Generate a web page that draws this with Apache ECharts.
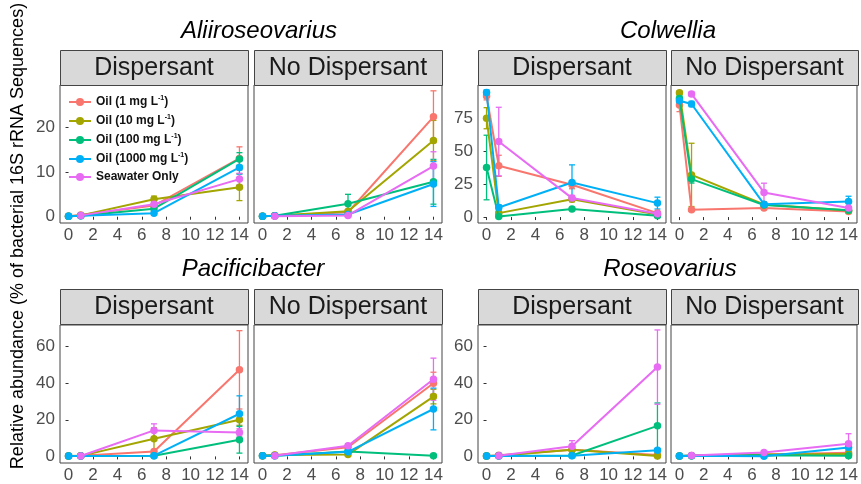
<!DOCTYPE html>
<html>
<head>
<meta charset="utf-8">
<script src="https://cdn.jsdelivr.net/npm/echarts@6/dist/echarts.min.js"></script>
<style>
  html, body { margin: 0; padding: 0; background: #fff; }
  #chart { width: 861px; height: 484px; }
</style>
</head>
<body>
<div id="chart"></div>
<script>
// Sampling days and treatments
const days = [0, 1, 7, 14];
const treatments = ['Oil (1 mg L-1)', 'Oil (10 mg L-1)', 'Oil (100 mg L-1)', 'Oil (1000 mg L-1)', 'Seawater Only'];
const genera = ['Aliiroseovarius', 'Colwellia', 'Pacificibacter', 'Roseovarius'];
const conditions = ['Dispersant', 'No Dispersant'];
const xTicks = [0, 2, 4, 6, 8, 10, 12, 14];
const yTicksAlii = [0, 10, 20];
const yTicksColw = [0, 25, 50, 75];
const yTicksPaci = [0, 20, 40, 60];
const yTicksRose = [0, 20, 40, 60];

// Mean relative abundance (%), rows follow `treatments`, columns follow `days`
const aliiDisp = [
  [0.1, 0.4, 2.5, 13.0],
  [0.1, 0.3, 3.9, 6.6],
  [0.1, 0.2, 1.8, 12.9],
  [0.1, 0.2, 0.8, 11.0],
  [null, 0.3, 2.8, 8.4]
];
const aliiDispErr = [
  [0.1, 0.2, 0.5, 2.6],
  [0.1, 0.1, 0.7, 3.0],
  [0.1, 0.1, 0.4, 1.4],
  [0.1, 0.1, 0.3, 1.5],
  [null, 0.1, 0.5, 1.3]
];
const aliiNoDisp = [
  [0.1, 0.2, 1.0, 22.3],
  [0.1, 0.2, 1.2, 17.0],
  [0.1, 0.2, 2.9, 7.8],
  [0.1, 0.2, 0.5, 7.3],
  [null, 0.1, 0.3, 11.3]
];
const aliiNoDispErr = [
  [0.1, 0.1, 0.3, 5.8],
  [0.1, 0.1, 0.4, 4.5],
  [0.1, 0.1, 2.1, 5.0],
  [0.1, 0.1, 0.2, 5.0],
  [null, 0.1, 0.2, 3.2]
];
const colwDisp = [
  [91.9, 38.9, 24.5, 3.0],
  [75.0, 3.0, 13.6, 2.0],
  [37.6, 0.5, 6.1, 1.0],
  [94.5, 7.3, 26.2, 10.6],
  [null, 57.3, 14.4, 2.5]
];
const colwDispErr = [
  [3.0, 8.0, 3.0, 1.0],
  [8.0, 1.0, 2.0, 0.5],
  [24.5, 0.3, 1.0, 0.5],
  [2.0, 2.0, 13.4, 4.5],
  [null, 26.0, 2.0, 0.5]
];
const colwNoDisp = [
  [85.0, 5.5, 6.8, 4.2],
  [94.4, 32.0, 9.5, 5.0],
  [90.0, 28.8, 9.2, 5.2],
  [88.3, 85.8, 9.8, 11.8],
  [null, 93.4, 18.7, 6.8]
];
const colwNoDispErr = [
  [5.0, 1.0, 1.0, 0.5],
  [1.0, 24.0, 1.0, 1.0],
  [2.0, 3.0, 1.0, 1.0],
  [2.0, 2.0, 1.0, 4.0],
  [null, 1.5, 7.0, 1.0]
];
const paciDisp = [
  [0.2, 0.3, 2.7, 47.3],
  [0.2, 0.3, 9.6, 20.0],
  [0.2, 0.2, 0.4, 9.1],
  [0.2, 0.2, 0.4, 23.3],
  [null, 0.2, 14.2, 13.1]
];
const paciDispErr = [
  [0.1, 0.1, 0.6, 21.4],
  [0.1, 0.1, 6.0, 3.0],
  [0.1, 0.1, 0.2, 7.3],
  [0.1, 0.1, 0.2, 9.8],
  [null, 0.1, 3.6, 2.0]
];
const paciNoDisp = [
  [0.3, 0.6, 5.0, 40.0],
  [0.3, 0.8, 1.0, 32.7],
  [0.3, 0.4, 2.7, 0.4],
  [0.3, 0.3, 2.5, 25.9],
  [null, 0.4, 5.8, 42.2]
];
const paciNoDispErr = [
  [0.1, 0.2, 0.5, 6.0],
  [0.1, 0.2, 0.3, 4.0],
  [0.1, 0.1, 0.3, 0.2],
  [0.1, 0.1, 0.3, 11.4],
  [null, 0.1, 1.0, 11.5]
];
const roseDisp = [
  [0.2, 0.6, 3.6, 0.8],
  [0.2, 0.4, 3.6, 0.2],
  [0.2, 0.3, 0.5, 16.7],
  [0.2, 0.2, 0.4, 3.3],
  [null, 0.3, 5.5, 48.8]
];
const roseDispErr = [
  [0.1, 0.2, 0.5, 0.4],
  [0.1, 0.1, 0.5, 0.2],
  [0.1, 0.1, 0.2, 12.5],
  [0.1, 0.1, 0.2, 1.0],
  [null, 0.1, 3.1, 20.3]
];
const roseNoDisp = [
  [0.2, 0.5, 1.0, 2.0],
  [0.2, 0.4, 1.0, 1.3],
  [0.2, 0.3, 0.6, 0.4],
  [0.2, 0.3, 0.1, 4.9],
  [null, 0.5, 2.2, 6.9]
];
const roseNoDispErr = [
  [0.1, 0.1, 0.3, 0.5],
  [0.1, 0.1, 0.3, 0.5],
  [0.1, 0.1, 0.2, 0.2],
  [0.1, 0.1, 0.1, 2.0],
  [null, 0.1, 0.6, 5.5]
];

// ---- presentation ----
const FONT = '"Liberation Sans", Arial, sans-serif';
const COLORS = ['#F8766D', '#A3A500', '#00BF7D', '#00B0F6', '#E76BF3'];
const COL_LEFT = [60, 254, 478, 671];
const COL_W = [188, 188, 188, 187];
const STRIP_TOP = [50, 289];
const STRIP_H = 35;
const PLOT_TOP = [85, 325];
const PLOT_H = 138;
const TITLE_X = [259, 668, 253, 670];

const panelMeans = [[aliiDisp, aliiNoDisp], [colwDisp, colwNoDisp], [paciDisp, paciNoDisp], [roseDisp, roseNoDisp]];
const panelErrs = [[aliiDispErr, aliiNoDispErr], [colwDispErr, colwNoDispErr], [paciDispErr, paciNoDispErr], [roseDispErr, roseNoDispErr]];
const yTicksByGenus = [yTicksAlii, yTicksColw, yTicksPaci, yTicksRose];
const yRangeByGenus = [[-1.4, 29.4], [-4.5, 100.2], [-3.6, 71.8], [-3.6, 71.8]];

const grids = [], xAxes = [], yAxes = [], series = [], graphics = [];

genera.forEach((genus, g) => {
  const row = g < 2 ? 0 : 1;
  const colBase = (g % 2) * 2;

  graphics.push({
    type: 'text',
    x: TITLE_X[g],
    y: row === 0 ? 31 : 269,
    style: {
      text: genus, font: 'italic 24px ' + FONT, fill: '#000',
      align: 'center', verticalAlign: 'middle'
    }
  });

  conditions.forEach((cond, c) => {
    const col = colBase + c;
    const p = grids.length;
    grids.push({
      left: COL_LEFT[col], top: PLOT_TOP[row], width: COL_W[col], height: PLOT_H,
      show: true, borderColor: '#444', borderWidth: 1, backgroundColor: '#fff'
    });
    xAxes.push({
      type: 'value', gridIndex: p, min: -0.7, max: 14.7,
      axisLine: { show: false },
      splitLine: { show: false },
      axisTick: { show: true, length: 3, customValues: xTicks, lineStyle: { color: '#333' } },
      axisLabel: { customValues: xTicks, fontSize: 17, color: '#4d4d4d', fontFamily: FONT, margin: 4 }
    });
    const yr = yRangeByGenus[g];
    yAxes.push({
      type: 'value', gridIndex: p, min: yr[0], max: yr[1],
      axisLine: { show: false },
      splitLine: { show: false },
      axisTick: { show: c === 0, length: 3, customValues: yTicksByGenus[g], lineStyle: { color: '#333' } },
      axisLabel: { show: c === 0, customValues: yTicksByGenus[g], fontSize: 17, color: '#4d4d4d', fontFamily: FONT, margin: 5 }
    });

    // facet strip
    graphics.push({
      type: 'rect',
      shape: { x: COL_LEFT[col] + 0.5, y: STRIP_TOP[row] + 0.5, width: COL_W[col], height: STRIP_H },
      style: { fill: '#d9d9d9', stroke: '#444', lineWidth: 1 }
    });
    graphics.push({
      type: 'text',
      x: COL_LEFT[col] + COL_W[col] / 2,
      y: STRIP_TOP[row] + STRIP_H / 2 + 1,
      style: { text: cond, font: '25px ' + FONT, fill: '#1a1a1a', align: 'center', verticalAlign: 'middle' }
    });

    const means = panelMeans[g][c];
    const errs = panelErrs[g][c];
    treatments.forEach((name, t) => {
      const color = COLORS[t];
      const pts = [], bars = [];
      days.forEach((d, i) => {
        const m = means[t][i];
        if (m == null) return;
        pts.push([d, m]);
        const e = errs[t][i] || 0;
        bars.push([d, m - e, m + e]);
      });
      series.push({
        type: 'custom', name: name + ' SE', xAxisIndex: p, yAxisIndex: p,
        silent: true, z: 2 + t * 0.1,
        data: bars,
        encode: { x: 0, y: [1, 2] },
        renderItem: (params, api) => {
          const x = api.value(0);
          const lo = api.coord([x, api.value(1)]);
          const hi = api.coord([x, api.value(2)]);
          const cap = 3;
          const st = { stroke: color, lineWidth: 1.3 };
          return {
            type: 'group',
            children: [
              { type: 'line', shape: { x1: lo[0], y1: lo[1], x2: hi[0], y2: hi[1] }, style: st },
              { type: 'line', shape: { x1: lo[0] - cap, y1: lo[1], x2: lo[0] + cap, y2: lo[1] }, style: st },
              { type: 'line', shape: { x1: hi[0] - cap, y1: hi[1], x2: hi[0] + cap, y2: hi[1] }, style: st }
            ]
          };
        }
      });
      series.push({
        type: 'line', name: name, xAxisIndex: p, yAxisIndex: p,
        data: pts, z: 3 + t * 0.1,
        symbol: 'circle', symbolSize: 7.5, showSymbol: true,
        color: color,
        lineStyle: { width: 2, color: color },
        itemStyle: { color: color },
        emphasis: { disabled: true },
        animation: false
      });
    });
  });
});

// y-axis title
graphics.push({
  type: 'text',
  x: 18, y: 236, rotation: Math.PI / 2,
  style: {
    text: 'Relative abundance (% of bacterial 16S rRNA Sequences)',
    font: '18px ' + FONT, fill: '#000', align: 'center', verticalAlign: 'middle'
  }
});

const chart = echarts.init(document.getElementById('chart'), null, { renderer: 'canvas' });
chart.setOption({
  animation: false,
  backgroundColor: '#fff',
  grid: grids,
  xAxis: xAxes,
  yAxis: yAxes,
  series: series,
  graphic: { elements: graphics },
  legend: {
    data: treatments,
    orient: 'vertical',
    left: 63, top: 90,
    itemWidth: 22, itemHeight: 10, itemGap: 6,
    selectedMode: false,
    formatter: (name) => {
      const m = name.match(/^(.*L)-1\)$/);
      return m ? '{t|' + m[1] + '}{s|-1}{t|)}' : '{t|' + name + '}';
    },
    textStyle: {
      padding: [0, 0, 0, 0],
      rich: {
        t: { fontSize: 12, fontWeight: 'bold', color: '#111', fontFamily: FONT, lineHeight: 14 },
        s: { fontSize: 7, fontWeight: 'bold', color: '#111', fontFamily: FONT, verticalAlign: 'top', lineHeight: 8 }
      }
    }
  }
});
</script>
</body>
</html>
